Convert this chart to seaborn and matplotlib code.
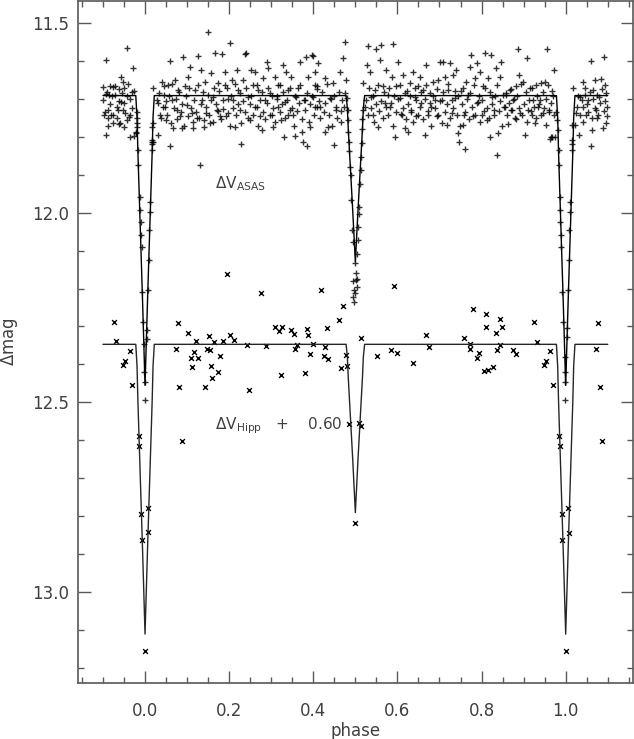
import numpy as np
import pandas as pd
import seaborn as sns
import matplotlib.pyplot as plt
from matplotlib.ticker import MultipleLocator, FormatStrFormatter

# model light curve vertices (phase, ASAS mag); Hipparcos model is the same shape shifted
model_phase = [-0.100, -0.022, -0.019, -0.017, -0.0065, 0.000, 0.0065, 0.017, 0.019, 0.022,
               0.478, 0.481, 0.483, 0.4935, 0.500, 0.5065, 0.517, 0.519, 0.522,
               0.978, 0.981, 0.983, 0.9935, 1.000, 1.0065, 1.017, 1.019, 1.022, 1.100]
model_asas = [11.692, 11.692, 11.750, 11.840, 12.210, 12.455, 12.210, 11.840, 11.750, 11.692,
              11.692, 11.725, 11.777, 11.990, 12.130, 11.990, 11.777, 11.725, 11.692,
              11.692, 11.750, 11.840, 12.210, 12.455, 12.210, 11.840, 11.750, 11.692, 11.692]
model_hipp = [12.347, 12.347, 12.405, 12.495, 12.865, 13.110, 12.865, 12.495, 12.405, 12.347,
              12.347, 12.380, 12.432, 12.645, 12.790, 12.645, 12.432, 12.380, 12.347,
              12.347, 12.405, 12.495, 12.865, 13.110, 12.865, 12.495, 12.405, 12.347, 12.347]

# ASAS points
asas_left = [(-0.093, 11.597), (-0.044, 11.566), (-0.028, 11.620), (-0.058, 11.642), (-0.052, 11.655),
             (-0.099, 11.670), (-0.083, 11.667), (-0.077, 11.670), (-0.063, 11.675), (-0.050, 11.673),
             (-0.093, 11.689), (-0.085, 11.690), (-0.071, 11.690), (-0.032, 11.682), (-0.089, 11.730),
             (-0.065, 11.730), (-0.052, 11.730), (-0.036, 11.743), (-0.097, 11.743), (-0.080, 11.743),
             (-0.067, 11.752), (-0.044, 11.756), (-0.089, 11.771), (-0.075, 11.765), (-0.062, 11.767),
             (-0.049, 11.776), (-0.093, 11.795), (-0.036, 11.802), (-0.026, 11.798), (-0.099, 11.703),
             (-0.095, 11.734), (-0.091, 11.682), (-0.087, 11.751), (-0.083, 11.713), (-0.079, 11.694),
             (-0.075, 11.742), (-0.071, 11.668), (-0.067, 11.721), (-0.063, 11.706), (-0.059, 11.763),
             (-0.055, 11.684), (-0.051, 11.712), (-0.047, 11.737), (-0.043, 11.693), (-0.039, 11.748),
             (-0.035, 11.701), (-0.031, 11.724), (-0.027, 11.679), (-0.057, 11.708), (-0.041, 11.662)]
asas_ecl = [(-0.021, 11.787), (-0.021, 11.790), (-0.019, 11.735), (-0.019, 11.750), (-0.019, 11.765),
            (-0.019, 11.775), (-0.016, 11.836), (-0.016, 11.874), (-0.012, 11.959), (-0.012, 11.994),
            (-0.010, 12.025), (-0.009, 12.060), (-0.008, 12.090), (-0.0064, 12.209), (-0.004, 12.288),
            (-0.0016, 12.345), (-0.0016, 12.420), (0.000, 12.446), (0.000, 12.494), (0.0055, 12.310),
            (0.004, 12.332), (0.0064, 12.205), (0.0095, 12.126), (0.0095, 12.045), (0.011, 11.998),
            (0.012, 11.972), (0.016, 11.814), (0.0165, 11.810), (0.0165, 11.820), (0.017, 11.775),
            (0.020, 11.765), (0.018, 11.813), (0.017, 11.835),
            (0.4815, 11.731), (0.4815, 11.757), (0.483, 11.788), (0.4846, 11.814), (0.4846, 11.837),
            (0.487, 11.880), (0.4886, 11.902), (0.490, 11.968), (0.4925, 12.047), (0.495, 12.077),
            (0.4988, 12.132), (0.5005, 12.158), (0.5005, 12.178), (0.503, 12.196), (0.4988, 12.213),
            (0.497, 12.235), (0.505, 12.108), (0.507, 12.073), (0.507, 12.038), (0.508, 12.003),
            (0.508, 11.985), (0.5107, 11.924), (0.5123, 11.889), (0.5123, 11.854), (0.5147, 11.818),
            (0.516, 11.779), (0.516, 11.753), (0.5186, 11.731), (0.495, 12.180), (0.503, 12.176),
            (0.497, 12.203), (0.495, 12.222),
            (0.978, 11.735), (0.980, 11.757), (0.9817, 11.783), (0.9834, 11.836), (0.9834, 11.874),
            (0.9874, 11.959), (0.9874, 11.994), (0.9874, 12.025), (0.9897, 12.060), (0.9897, 12.090),
            (0.992, 12.209), (0.9937, 12.288), (0.9976, 12.380), (0.9976, 12.420), (0.9993, 12.446),
            (0.9993, 12.494), (1.004, 12.305), (1.004, 12.328), (1.0055, 12.205), (1.007, 12.126),
            (1.0074, 12.045), (1.0095, 11.998), (1.011, 11.972), (1.015, 11.836), (1.015, 11.820),
            (1.015, 11.809), (1.015, 11.770), (0.962, 11.805), (0.968, 11.800)]
asas_mid1 = [(0.020, 11.673), (0.028, 11.703), (0.032, 11.796), (0.036, 11.743), (0.040, 11.655),
             (0.044, 11.690), (0.047, 11.721), (0.051, 11.756), (0.055, 11.664), (0.059, 11.600),
             (0.059, 11.826), (0.063, 11.703), (0.067, 11.778), (0.071, 11.651), (0.075, 11.730),
             (0.079, 11.677), (0.083, 11.747), (0.087, 11.778), (0.091, 11.591), (0.095, 11.668),
             (0.099, 11.717), (0.103, 11.642), (0.107, 11.616), (0.111, 11.739), (0.115, 11.778),
             (0.119, 11.677), (0.123, 11.752), (0.127, 11.589), (0.131, 11.875), (0.132, 11.625),
             (0.135, 11.703), (0.139, 11.756), (0.143, 11.655), (0.146, 11.739), (0.150, 11.524),
             (0.154, 11.765), (0.158, 11.633), (0.162, 11.695), (0.166, 11.579), (0.170, 11.730),
             (0.174, 11.660), (0.178, 11.747), (0.182, 11.583), (0.186, 11.703), (0.190, 11.629),
             (0.194, 11.673), (0.198, 11.739), (0.202, 11.553), (0.206, 11.651), (0.210, 11.703),
             (0.214, 11.774), (0.218, 11.625), (0.222, 11.677), (0.226, 11.730), (0.229, 11.820),
             (0.234, 11.651), (0.238, 11.582), (0.241, 11.580), (0.245, 11.695), (0.249, 11.756),
             (0.253, 11.625), (0.257, 11.664), (0.261, 11.629), (0.265, 11.721), (0.269, 11.677),
             (0.273, 11.747), (0.279, 11.782), (0.281, 11.646), (0.285, 11.703), (0.289, 11.603),
             (0.293, 11.620), (0.297, 11.686), (0.301, 11.743), (0.305, 11.774), (0.309, 11.642),
             (0.313, 11.694), (0.317, 11.721), (0.321, 11.664), (0.324, 11.756), (0.328, 11.611),
             (0.330, 11.800), (0.333, 11.708), (0.336, 11.629), (0.340, 11.677), (0.344, 11.730),
             (0.348, 11.642), (0.352, 11.743), (0.356, 11.798), (0.360, 11.695), (0.364, 11.673),
             (0.368, 11.603), (0.372, 11.787), (0.376, 11.813), (0.380, 11.703), (0.382, 11.591),
             (0.384, 11.826), (0.388, 11.642), (0.392, 11.774), (0.396, 11.585), (0.400, 11.695),
             (0.404, 11.664), (0.408, 11.721), (0.412, 11.607), (0.400, 11.589), (0.404, 11.629),
             (0.408, 11.668), (0.416, 11.721), (0.428, 11.646), (0.429, 11.787), (0.436, 11.774),
             (0.440, 11.699), (0.447, 11.660), (0.449, 11.822), (0.455, 11.730), (0.463, 11.629),
             (0.467, 11.761), (0.471, 11.594), (0.475, 11.550), (0.478, 11.651), (0.479, 11.699)]
asas_dense1 = [(0.030, 11.712), (0.034, 11.684), (0.038, 11.751), (0.042, 11.723), (0.046, 11.668),
               (0.050, 11.706), (0.053, 11.742), (0.057, 11.693), (0.061, 11.764), (0.065, 11.661),
               (0.069, 11.725), (0.073, 11.701), (0.077, 11.753), (0.081, 11.682), (0.085, 11.734),
               (0.089, 11.713), (0.093, 11.772), (0.097, 11.694), (0.101, 11.745), (0.105, 11.672),
               (0.109, 11.724), (0.113, 11.761), (0.117, 11.703), (0.121, 11.736), (0.125, 11.664),
               (0.129, 11.752), (0.133, 11.715), (0.137, 11.683), (0.141, 11.774), (0.145, 11.722),
               (0.149, 11.691), (0.153, 11.743), (0.157, 11.704), (0.161, 11.762), (0.165, 11.673),
               (0.169, 11.714), (0.173, 11.733), (0.177, 11.681), (0.181, 11.754), (0.185, 11.726),
               (0.189, 11.663), (0.193, 11.745), (0.197, 11.702), (0.201, 11.771), (0.205, 11.693),
               (0.209, 11.724), (0.213, 11.662), (0.217, 11.744), (0.221, 11.713), (0.225, 11.684),
               (0.229, 11.763), (0.233, 11.705), (0.237, 11.735), (0.241, 11.671), (0.245, 11.752),
               (0.249, 11.714), (0.253, 11.692), (0.257, 11.743), (0.261, 11.722), (0.265, 11.664),
               (0.269, 11.771), (0.273, 11.703), (0.277, 11.682), (0.281, 11.734), (0.285, 11.753),
               (0.289, 11.712), (0.293, 11.673), (0.297, 11.744), (0.301, 11.694), (0.305, 11.725),
               (0.309, 11.762), (0.313, 11.701), (0.317, 11.663), (0.321, 11.735), (0.325, 11.714),
               (0.329, 11.683), (0.333, 11.752), (0.337, 11.704), (0.341, 11.743), (0.345, 11.672),
               (0.349, 11.724), (0.353, 11.773), (0.357, 11.692), (0.361, 11.733), (0.365, 11.712),
               (0.369, 11.664), (0.373, 11.754), (0.377, 11.703), (0.381, 11.731), (0.385, 11.684),
               (0.389, 11.761), (0.393, 11.714), (0.397, 11.692), (0.401, 11.742), (0.405, 11.723),
               (0.409, 11.674), (0.413, 11.705), (0.417, 11.752), (0.421, 11.683), (0.425, 11.734),
               (0.429, 11.712), (0.433, 11.662), (0.437, 11.743), (0.441, 11.701), (0.445, 11.772),
               (0.449, 11.694), (0.453, 11.723), (0.457, 11.751), (0.461, 11.682), (0.465, 11.733),
               (0.469, 11.704), (0.473, 11.722), (0.476, 11.684)]
asas_mid2 = [(0.519, 11.660), (0.523, 11.721), (0.527, 11.611), (0.531, 11.561), (0.535, 11.629),
             (0.538, 11.695), (0.542, 11.743), (0.546, 11.677), (0.550, 11.570), (0.554, 11.774),
             (0.558, 11.598), (0.562, 11.559), (0.565, 11.668), (0.570, 11.712), (0.574, 11.625),
             (0.578, 11.690), (0.582, 11.721), (0.586, 11.642), (0.590, 11.556), (0.594, 11.800),
             (0.596, 11.668), (0.602, 11.603), (0.606, 11.699), (0.610, 11.743), (0.614, 11.638),
             (0.618, 11.778), (0.622, 11.681), (0.626, 11.787), (0.630, 11.660), (0.633, 11.730),
             (0.637, 11.629), (0.641, 11.695), (0.645, 11.747), (0.649, 11.668), (0.653, 11.642),
             (0.657, 11.712), (0.661, 11.677), (0.665, 11.796), (0.668, 11.611), (0.673, 11.743),
             (0.677, 11.686), (0.681, 11.721), (0.685, 11.655), (0.689, 11.703), (0.693, 11.747),
             (0.697, 11.651), (0.701, 11.603), (0.705, 11.703), (0.709, 11.603), (0.713, 11.642),
             (0.717, 11.770), (0.721, 11.677), (0.725, 11.607), (0.729, 11.739), (0.732, 11.638),
             (0.736, 11.699), (0.740, 11.625), (0.744, 11.791), (0.747, 11.813), (0.750, 11.681),
             (0.755, 11.770), (0.758, 11.743), (0.761, 11.833), (0.764, 11.655), (0.768, 11.690),
             (0.772, 11.616), (0.776, 11.585), (0.780, 11.747), (0.784, 11.646), (0.788, 11.607),
             (0.792, 11.708), (0.796, 11.629), (0.800, 11.743), (0.804, 11.668), (0.808, 11.581),
             (0.812, 11.756), (0.816, 11.646), (0.820, 11.800), (0.822, 11.585), (0.826, 11.695),
             (0.829, 11.730), (0.834, 11.620), (0.837, 11.848), (0.840, 11.791), (0.843, 11.642),
             (0.847, 11.603), (0.851, 11.690), (0.855, 11.721), (0.859, 11.690), (0.864, 11.768),
             (0.867, 11.677), (0.871, 11.730), (0.875, 11.703), (0.879, 11.752), (0.883, 11.668),
             (0.887, 11.570), (0.889, 11.638), (0.892, 11.739), (0.899, 11.655), (0.903, 11.796),
             (0.907, 11.594), (0.911, 11.730), (0.915, 11.673), (0.919, 11.743), (0.922, 11.703),
             (0.926, 11.765), (0.930, 11.664), (0.934, 11.721), (0.938, 11.703), (0.942, 11.660),
             (0.946, 11.739), (0.950, 11.655), (0.954, 11.770), (0.956, 11.568), (0.960, 11.730),
             (0.964, 11.802), (0.968, 11.681), (0.972, 11.625), (0.974, 11.800)]
asas_dense2 = [(0.525, 11.703), (0.529, 11.742), (0.533, 11.673), (0.537, 11.724), (0.541, 11.692),
               (0.545, 11.761), (0.549, 11.714), (0.553, 11.664), (0.557, 11.733), (0.561, 11.705),
               (0.565, 11.752), (0.569, 11.682), (0.573, 11.723), (0.577, 11.744), (0.581, 11.671),
               (0.585, 11.712), (0.589, 11.773), (0.593, 11.694), (0.597, 11.735), (0.601, 11.702),
               (0.605, 11.663), (0.609, 11.741), (0.613, 11.724), (0.617, 11.684), (0.621, 11.753),
               (0.625, 11.713), (0.629, 11.692), (0.633, 11.734), (0.637, 11.762), (0.641, 11.672),
               (0.645, 11.703), (0.649, 11.744), (0.653, 11.721), (0.657, 11.683), (0.661, 11.754),
               (0.665, 11.702), (0.669, 11.664), (0.673, 11.733), (0.677, 11.712), (0.681, 11.771),
               (0.685, 11.693), (0.689, 11.724), (0.693, 11.674), (0.697, 11.742), (0.701, 11.705),
               (0.705, 11.763), (0.709, 11.682), (0.713, 11.734), (0.717, 11.713), (0.721, 11.662),
               (0.725, 11.751), (0.729, 11.704), (0.733, 11.725), (0.737, 11.681), (0.741, 11.743),
               (0.745, 11.692), (0.749, 11.772), (0.753, 11.714), (0.757, 11.673), (0.761, 11.735),
               (0.765, 11.702), (0.769, 11.753), (0.773, 11.684), (0.777, 11.722), (0.781, 11.663),
               (0.785, 11.744), (0.789, 11.712), (0.793, 11.694), (0.797, 11.761), (0.801, 11.703),
               (0.805, 11.732), (0.809, 11.672), (0.813, 11.724), (0.817, 11.752), (0.821, 11.683),
               (0.825, 11.714), (0.829, 11.742), (0.833, 11.692), (0.837, 11.664), (0.841, 11.733),
               (0.845, 11.705), (0.849, 11.771), (0.853, 11.723), (0.857, 11.684), (0.861, 11.743),
               (0.865, 11.712), (0.869, 11.674), (0.873, 11.731), (0.877, 11.702), (0.881, 11.754),
               (0.885, 11.693), (0.889, 11.725), (0.893, 11.662), (0.897, 11.744), (0.901, 11.713),
               (0.905, 11.682), (0.909, 11.762), (0.913, 11.704), (0.917, 11.733), (0.921, 11.671),
               (0.925, 11.722), (0.929, 11.752), (0.933, 11.694), (0.937, 11.714), (0.941, 11.743),
               (0.945, 11.683), (0.949, 11.724), (0.953, 11.702), (0.957, 11.664), (0.961, 11.735),
               (0.965, 11.712), (0.969, 11.693), (0.973, 11.742)]
asas_right = [(1.017, 11.673), (1.021, 11.770), (1.025, 11.739), (1.032, 11.796), (1.035, 11.695),
              (1.040, 11.721), (1.041, 11.655), (1.045, 11.690), (1.049, 11.743), (1.054, 11.703),
              (1.059, 11.600), (1.060, 11.826), (1.063, 11.782), (1.065, 11.677), (1.069, 11.651),
              (1.071, 11.730), (1.074, 11.752), (1.079, 11.695), (1.083, 11.649), (1.088, 11.778),
              (1.090, 11.591), (1.093, 11.664), (1.097, 11.686), (1.099, 11.747), (1.095, 11.763),
              (1.026, 11.722), (1.030, 11.693), (1.034, 11.742), (1.038, 11.704), (1.042, 11.761),
              (1.046, 11.672), (1.050, 11.713), (1.054, 11.734), (1.058, 11.683), (1.062, 11.752),
              (1.066, 11.702), (1.070, 11.724), (1.074, 11.691), (1.078, 11.743), (1.082, 11.712),
              (1.086, 11.674), (1.090, 11.733), (1.094, 11.705), (1.098, 11.721)]

# Hipparcos points (already shifted by +0.60 as in the figure)
hipp_pts = [(-0.0746, 12.287), (-0.069, 12.339), (-0.0366, 12.364), (-0.0515, 12.401), (-0.0468, 12.392),
            (-0.031, 12.454), (-0.015, 12.589), (-0.0135, 12.616), (-0.0095, 12.793), (-0.007, 12.861),
            (0.007, 12.778), (0.008, 12.842), (0.000, 13.155), (0.1955, 12.161), (0.276, 12.212),
            (0.078, 12.290), (0.073, 12.358), (0.0815, 12.460), (0.087, 12.601), (0.103, 12.318),
            (0.120, 12.337), (0.117, 12.368), (0.110, 12.382), (0.127, 12.383), (0.1115, 12.408),
            (0.1417, 12.460), (0.153, 12.326), (0.147, 12.358), (0.155, 12.361), (0.1646, 12.340),
            (0.1575, 12.405), (0.159, 12.435), (0.1725, 12.421), (0.179, 12.379), (0.186, 12.339),
            (0.203, 12.323), (0.211, 12.335), (0.2415, 12.348), (0.248, 12.467), (0.287, 12.352),
            (0.3095, 12.302), (0.3175, 12.311), (0.325, 12.302), (0.324, 12.427), (0.3467, 12.308),
            (0.355, 12.320), (0.357, 12.360), (0.362, 12.348), (0.381, 12.423), (0.3855, 12.307),
            (0.388, 12.323), (0.393, 12.372), (0.399, 12.346), (0.4195, 12.203), (0.432, 12.303),
            (0.4275, 12.354), (0.426, 12.377), (0.434, 12.385), (0.4615, 12.284), (0.471, 12.247),
            (0.466, 12.409), (0.4775, 12.374), (0.480, 12.403), (0.4853, 12.556), (0.508, 12.554),
            (0.5145, 12.563), (0.499, 12.817), (0.5145, 12.330), (0.5525, 12.377), (0.592, 12.194),
            (0.584, 12.361), (0.5985, 12.370), (0.6365, 12.397), (0.668, 12.322), (0.6745, 12.354),
            (0.7577, 12.331), (0.780, 12.255), (0.7735, 12.346), (0.7735, 12.360), (0.795, 12.369),
            (0.789, 12.382), (0.8115, 12.266), (0.8115, 12.301), (0.8337, 12.318), (0.844, 12.279),
            (0.8495, 12.301), (0.844, 12.349), (0.8375, 12.363), (0.805, 12.418), (0.816, 12.414),
            (0.8265, 12.407), (0.8755, 12.361), (0.882, 12.372), (0.9255, 12.287), (0.931, 12.340),
            (0.9627, 12.364), (0.954, 12.392), (0.9485, 12.402), (0.969, 12.455), (0.9834, 12.589),
            (0.9857, 12.616), (0.9905, 12.795), (0.992, 12.862), (1.006, 12.778), (1.007, 12.843),
            (1.000, 13.155), (1.078, 12.291), (1.072, 12.359), (1.0815, 12.460), (1.087, 12.602)]

asas = pd.DataFrame(asas_left + asas_ecl + asas_mid1 + asas_dense1 + asas_mid2 + asas_dense2 + asas_right,
                    columns=["phase", "mag"])
hipp = pd.DataFrame(hipp_pts, columns=["phase", "mag"])
model = pd.DataFrame({"phase": model_phase, "asas": model_asas, "hipp": model_hipp})

sns.set_style("ticks")
plt.rcParams["font.family"] = ["DejaVu Sans"]

fig = plt.figure(figsize=(6.34, 7.39), dpi=100)
ax = fig.add_axes([0.1226, 0.0762, 0.8758, 0.9224])

sns.scatterplot(data=asas, x="phase", y="mag", marker="+", s=18, color="k", alpha=0.8,
                linewidth=1.0, ax=ax)
sns.lineplot(data=model, x="phase", y="asas", estimator=None, sort=False, color="k", lw=1.0, ax=ax)
sns.lineplot(data=model, x="phase", y="hipp", estimator=None, sort=False, color="0.15", lw=1.0, ax=ax)
sns.scatterplot(data=hipp, x="phase", y="mag", marker="x", s=12, color="k", linewidth=1.0, ax=ax)

ax.set_xlim(-0.16, 1.16)
ax.set_ylim(13.238, 11.443)

ax.xaxis.set_major_locator(MultipleLocator(0.2))
ax.xaxis.set_minor_locator(MultipleLocator(0.05))
ax.yaxis.set_major_locator(MultipleLocator(0.5))
ax.yaxis.set_minor_locator(MultipleLocator(0.1))
ax.xaxis.set_major_formatter(FormatStrFormatter("%.1f"))
ax.yaxis.set_major_formatter(FormatStrFormatter("%.1f"))

for sp in ax.spines.values():
    sp.set_visible(True)
    sp.set_color("0.35")
    sp.set_linewidth(1.2)
ax.tick_params(which="both", direction="in", top=True, right=True, color="0.35", width=1.0,
               labelsize=12, labelcolor="0.25")
ax.tick_params(which="major", length=9)
ax.tick_params(which="minor", length=4.5)
ax.tick_params(axis="x", pad=14)
ax.tick_params(axis="y", pad=6)

ax.set_xlabel("phase", fontsize=12, color="0.25", labelpad=1)
ax.set_ylabel(r"$\Delta$mag", fontsize=12, color="0.25", labelpad=9)

ax.text(0.166, 11.923, r"$\Delta$V$_{\rm ASAS}$", fontsize=11, color="0.25", va="center", ha="left")
ax.text(0.166, 12.56, r"$\Delta$V$_{\rm Hipp}$   +    0.60", fontsize=11, color="0.25",
        va="center", ha="left")

fig.savefig("out.png", dpi=100)
